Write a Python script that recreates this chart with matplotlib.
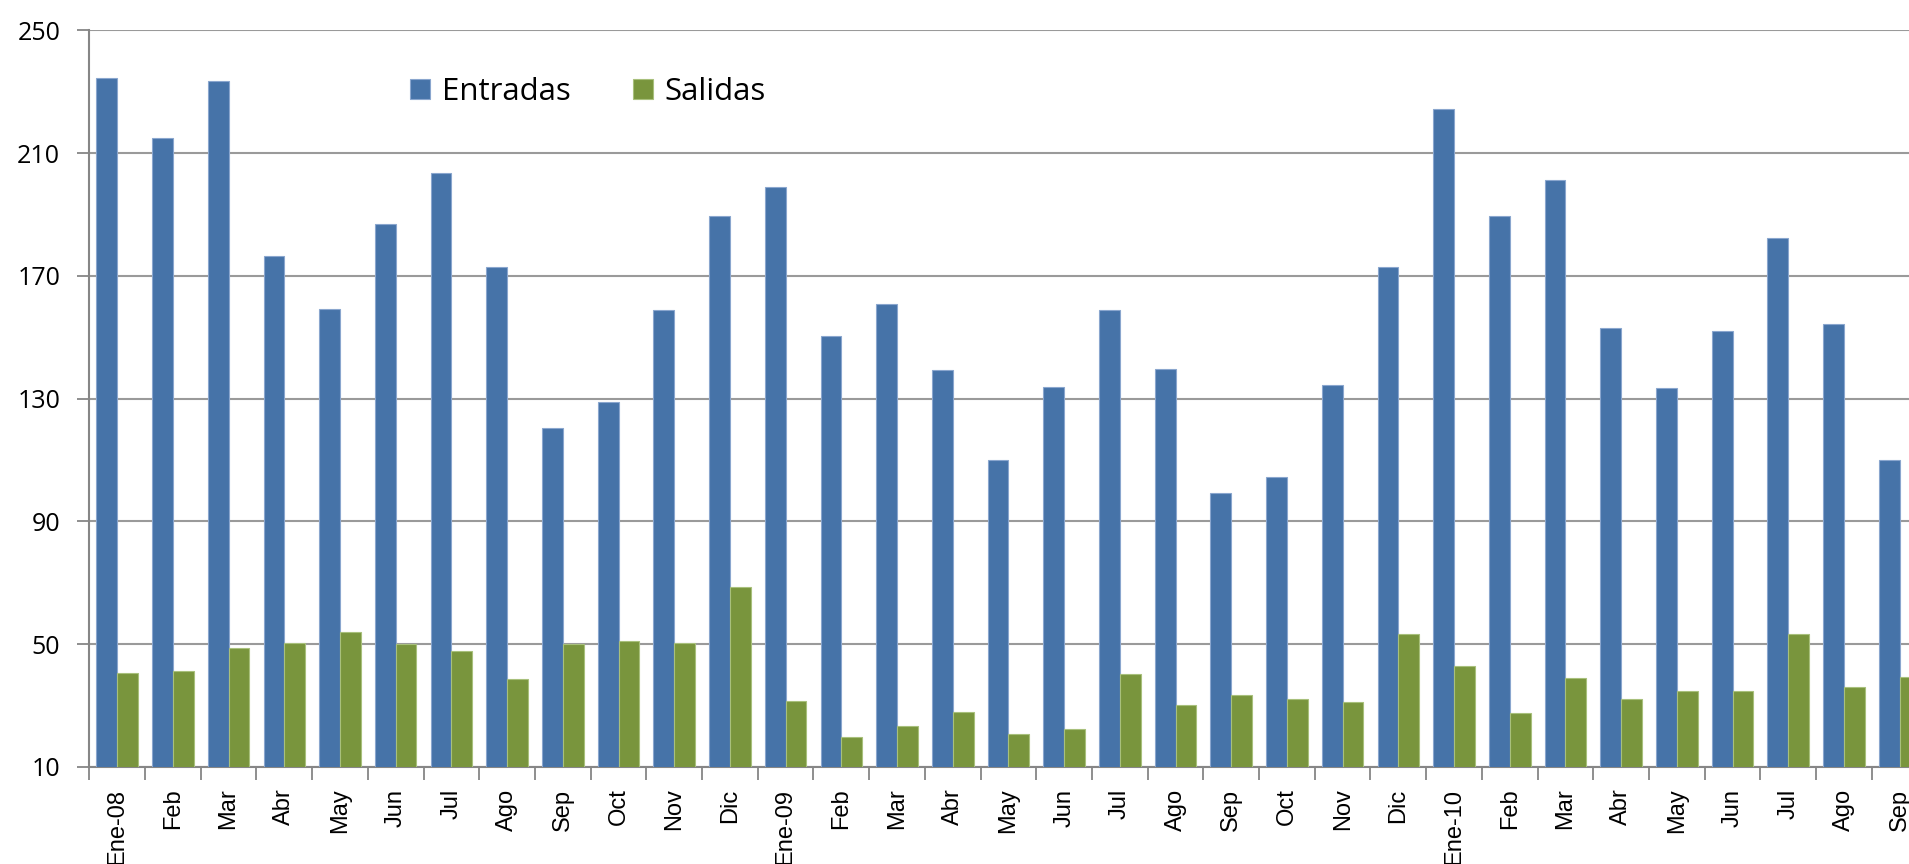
import matplotlib.pyplot as plt
import numpy as np

plt.rcParams['font.family'] = ['Open Sans', 'DejaVu Sans']

# Monthly entries and exits, Jan 2008 - Sep 2010
months = ['Ene-08', 'Feb', 'Mar', 'Abr', 'May', 'Jun', 'Jul', 'Ago', 'Sep', 'Oct', 'Nov', 'Dic',
          'Ene-09', 'Feb', 'Mar', 'Abr', 'May', 'Jun', 'Jul', 'Ago', 'Sep', 'Oct', 'Nov', 'Dic',
          'Ene-10', 'Feb', 'Mar', 'Abr', 'May', 'Jun', 'Jul', 'Ago', 'Sep']
entradas = [234.5, 214.8, 233.5, 176.5, 159.2, 186.8, 203.4, 172.8, 120.3, 129, 158.8, 189.4,
            198.9, 150.5, 160.8, 139.4, 110, 133.8, 158.8, 139.8, 99.3, 104.4, 134.6, 172.8,
            224.4, 189.6, 201.4, 152.9, 133.4, 152.1, 182.3, 154.4, 110]
salidas = [40.7, 41.4, 48.7, 50.5, 54, 50.2, 47.9, 38.7, 50.2, 50.9, 50.5, 68.7,
           31.5, 19.7, 23.4, 28, 20.7, 22.3, 40.3, 30.2, 33.4, 32.2, 31.1, 53.2,
           42.9, 27.6, 39.1, 32.2, 34.8, 34.8, 53.2, 36, 39.4]
yticks = [10, 50, 90, 130, 170, 210, 250]

blue = '#4673A8'
green = '#79953D'

fig = plt.figure(figsize=(19.09, 8.64), dpi=100)
# plot area runs past the right edge, like the cropped original
ax = fig.add_axes([0.0468, 0.1123, 0.9629, 0.8525])

x = np.arange(len(months))
w = 0.373
ax.bar(x - w / 2, entradas, w, color=blue, edgecolor='#8AA6CE', linewidth=0.8, label='Entradas', zorder=3)
ax.bar(x + w / 2, salidas, w, color=green, edgecolor='#A8C07C', linewidth=0.8, label='Salidas', zorder=3)

ax.set_ylim(10, 250)
ax.set_yticks(yticks)
ax.set_yticklabels([str(v) for v in yticks], fontsize=18)
ax.set_xlim(-0.5, len(months) - 0.5)
ax.set_xticks(x)
ax.set_xticklabels(months, rotation=90, fontsize=17, family='Liberation Sans')
ax.set_xticks(np.arange(len(months) + 1) - 0.5, minor=True)
ax.tick_params(axis='x', which='major', length=0, pad=15.5)
ax.tick_params(axis='x', which='minor', length=9, width=1.3, color='#868686')
ax.tick_params(axis='y', length=9, width=1.3, color='#868686', pad=12)

ax.grid(axis='y', color='#9A9A9A', linewidth=1.5, zorder=0)
ax.set_axisbelow(True)
for s in ['top', 'right']:
    ax.spines[s].set_visible(False)
for s in ['left', 'bottom']:
    ax.spines[s].set_color('#868686')
    ax.spines[s].set_linewidth(1.5)

fig.legend(loc='center left', bbox_to_anchor=(410 / 1909, 1 - 92 / 864), ncol=2, frameon=False,
           fontsize=22.5, handlelength=0.64, handleheight=0.64, handletextpad=0.37,
           columnspacing=2.0, borderpad=0, borderaxespad=0)

fig.savefig('out.png', dpi=100)
